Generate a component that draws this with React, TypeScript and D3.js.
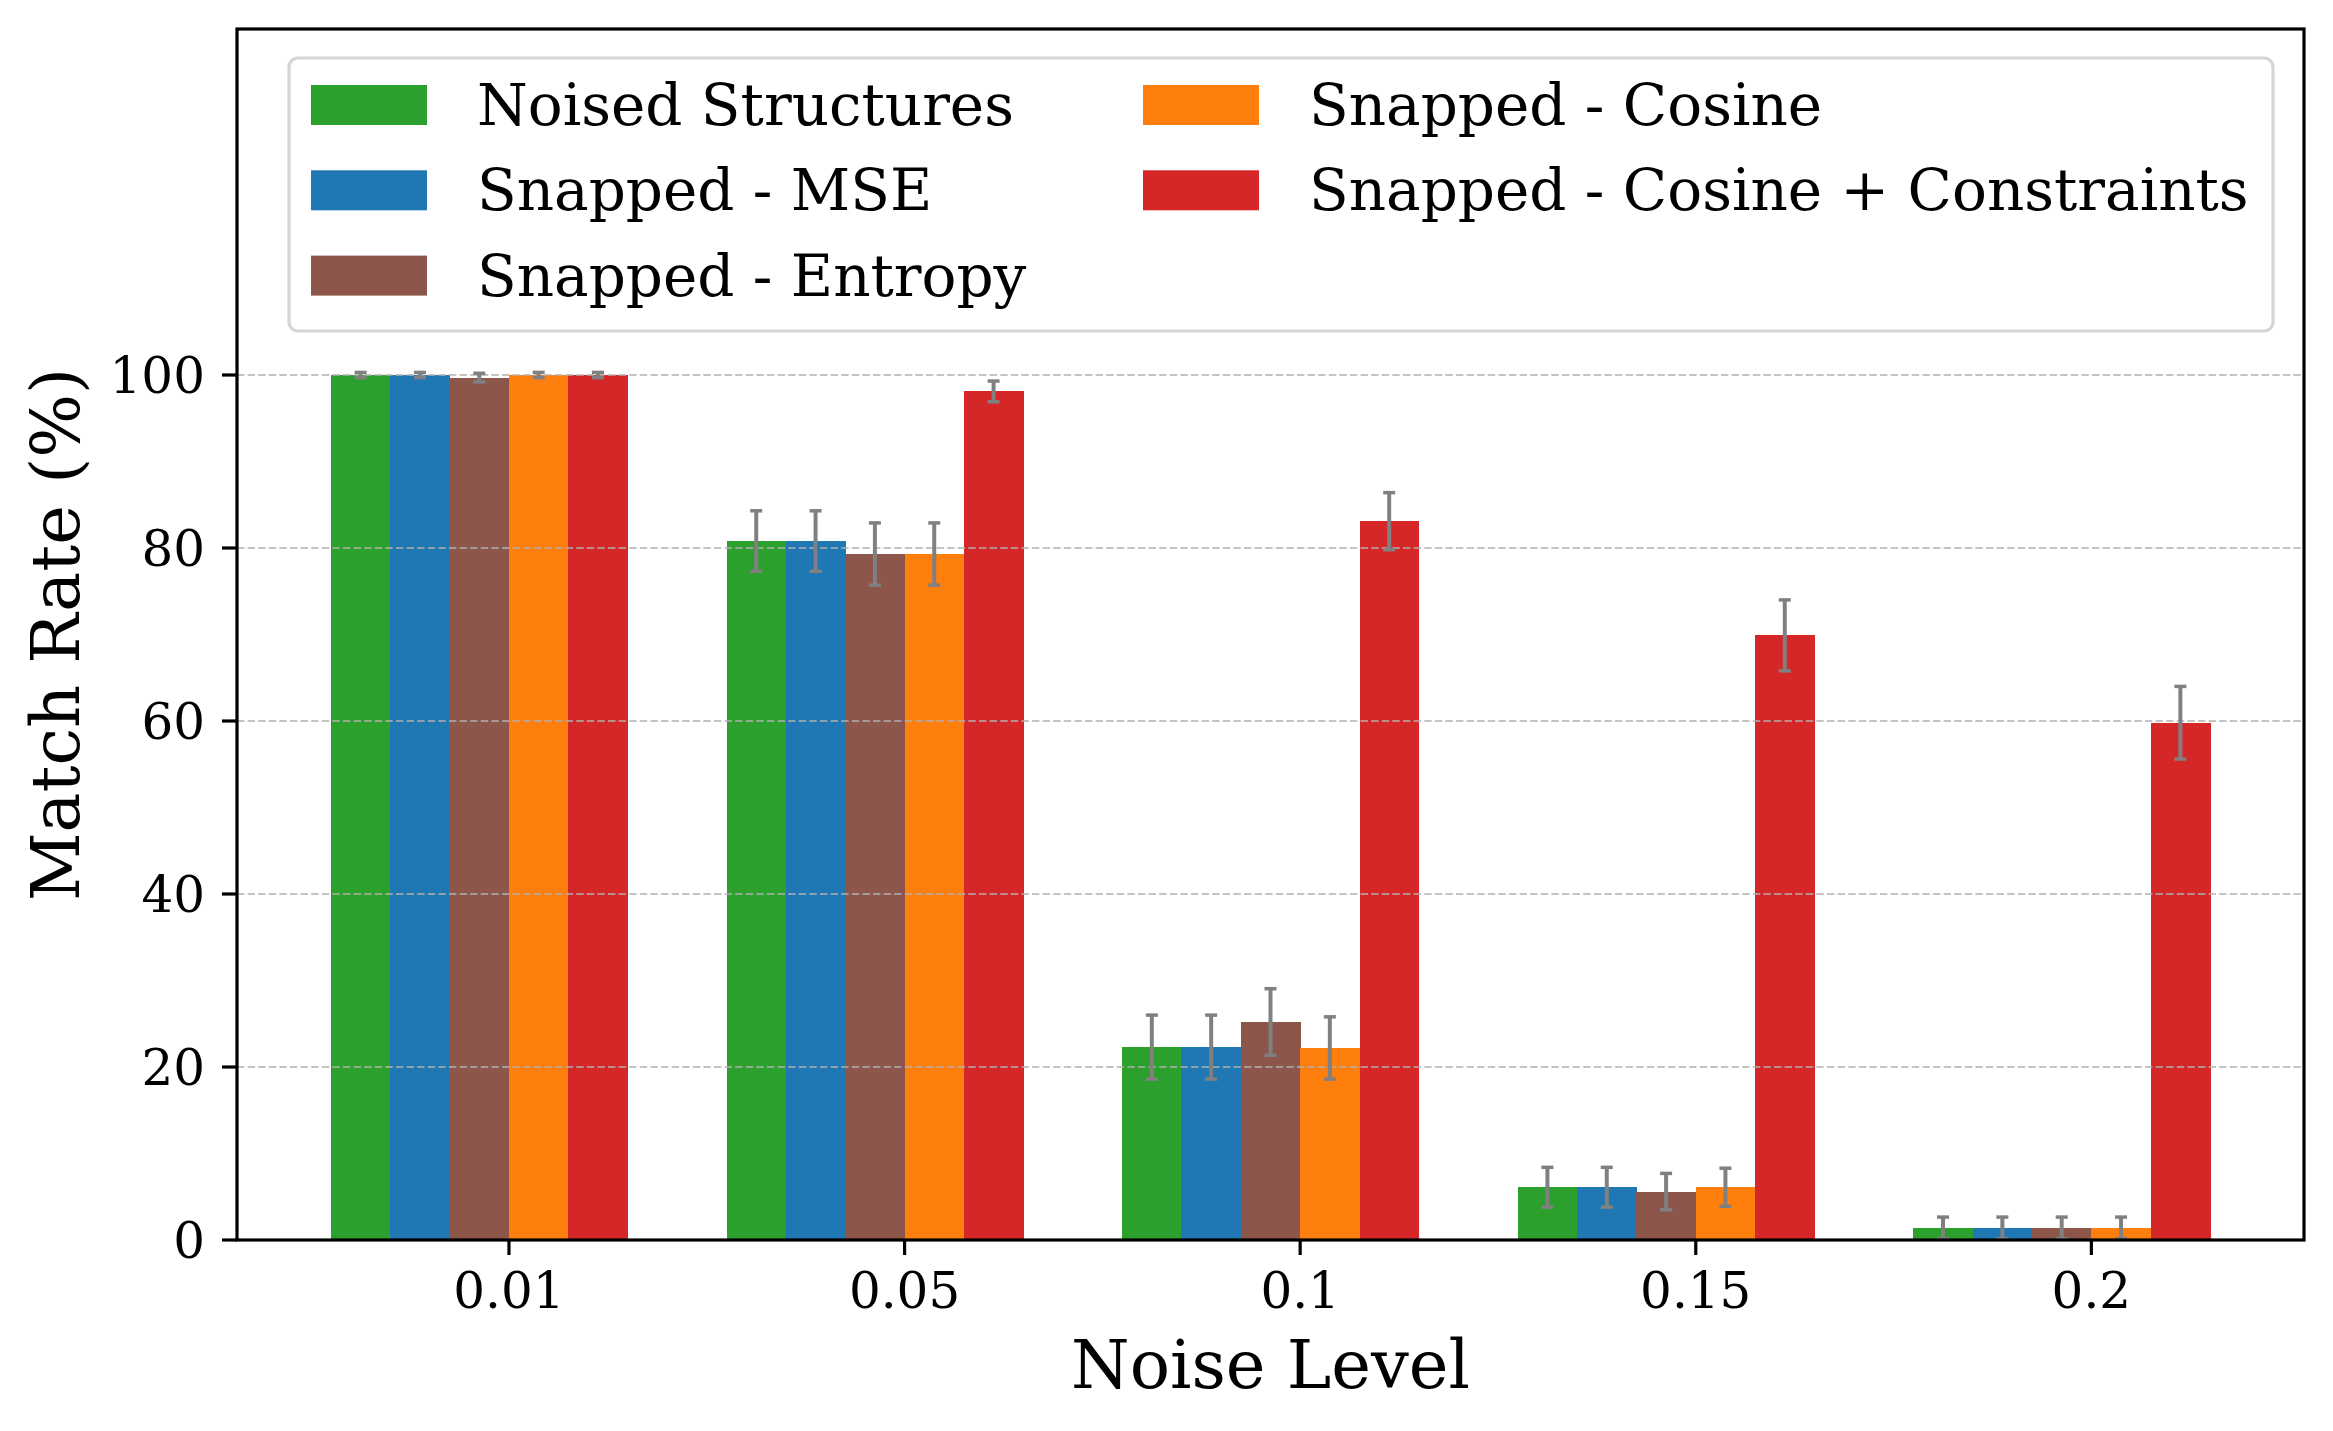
import React from 'react';
import * as d3 from 'd3';

const categories = ['0.01', '0.05', '0.1', '0.15', '0.2'];
const seriesNames = [
  'Noised Structures',
  'Snapped - MSE',
  'Snapped - Entropy',
  'Snapped - Cosine',
  'Snapped - Cosine + Constraints',
];
const seriesColors = ['#2ca02c', '#1f77b4', '#8c564b', '#ff7f0e', '#d62728'];

const noisedValues = [100, 80.8, 22.3, 6.1, 1.4];
const noisedErrors = [0.3, 3.5, 3.7, 2.3, 1.25];
const mseValues = [100, 80.8, 22.3, 6.1, 1.4];
const mseErrors = [0.3, 3.5, 3.7, 2.3, 1.25];
const entropyValues = [99.7, 79.3, 25.2, 5.6, 1.4];
const entropyErrors = [0.5, 3.6, 3.85, 2.1, 1.25];
const cosineValues = [100, 79.3, 22.2, 6.1, 1.4];
const cosineErrors = [0.3, 3.6, 3.6, 2.2, 1.25];
const constrainedValues = [100, 98.1, 83.1, 69.9, 59.8];
const constrainedErrors = [0.3, 1.2, 3.3, 4.1, 4.2];

const yTicks = [0, 20, 40, 60, 80, 100];

const allValues = [noisedValues, mseValues, entropyValues, cosineValues, constrainedValues];
const allErrors = [noisedErrors, mseErrors, entropyErrors, cosineErrors, constrainedErrors];

const W = 2333;
const H = 1431;
const FONT = '"DejaVu Serif", serif';

const App: React.FC = () => {
  const margin = { top: 29, right: W - 2304, bottom: H - 1240, left: 237 };
  const barW = 0.15;

  // bars are edge-aligned: series i starts at idx + (i - 3) * barW
  const xMin = -3 * barW;
  const xMax = categories.length - 1 + 2 * barW;
  const pad = (xMax - xMin) * 0.05;

  const x = d3.scaleLinear()
    .domain([xMin - pad, xMax + pad])
    .range([margin.left, W - margin.right]);
  const y = d3.scaleLinear()
    .domain([0, 140])
    .range([H - margin.bottom, margin.top]);

  const bw = x(barW) - x(0);
  const left = margin.left;
  const right = W - margin.right;
  const top = margin.top;
  const bottom = H - margin.bottom;

  const legendCols = [[0, 1, 2], [3, 4]];
  const legendColX = [311, 1143];
  const legendRowY = [85, 170.3, 255.6];

  return (
    <div style={{ position: 'absolute', left: 0, top: 0 }}>
      <svg width={W} height={H} style={{ display: 'block', background: '#fff' }}>
        {/* bars */}
        {allValues.map((vals, si) => (
          <g key={`s${si}`} shapeRendering="crispEdges">
            {vals.map((v, ci) => (
              <rect
                key={ci}
                x={x(ci + (si - 3) * barW)}
                y={y(v)}
                width={bw + 0.6}
                height={y(0) - y(v)}
                fill={seriesColors[si]}
              />
            ))}
          </g>
        ))}

        {/* grid on top of bars */}
        {yTicks.map(t => (
          <line
            key={`g${t}`}
            x1={left}
            x2={right}
            y1={y(t)}
            y2={y(t)}
            stroke="#b0b0b0"
            strokeOpacity={0.75}
            strokeWidth={2}
            strokeDasharray="7.4 3.2"
          />
        ))}

        {/* error bars */}
        {allValues.map((vals, si) => (
          <g key={`e${si}`} stroke="#808080">
            {vals.map((v, ci) => {
              const cx = x(ci + (si - 3) * barW + barW / 2);
              const e = allErrors[si][ci];
              return (
                <g key={ci}>
                  <line x1={cx} x2={cx} y1={y(v - e)} y2={y(v + e)} strokeWidth={4} />
                  <line x1={cx - 6} x2={cx + 6} y1={y(v - e)} y2={y(v - e)} strokeWidth={3.5} />
                  <line x1={cx - 6} x2={cx + 6} y1={y(v + e)} y2={y(v + e)} strokeWidth={3.5} />
                </g>
              );
            })}
          </g>
        ))}

        {/* axes frame */}
        <rect x={left} y={top} width={right - left} height={bottom - top} fill="none" stroke="#000" strokeWidth={3.2} />

        {/* y ticks */}
        {yTicks.map(t => (
          <g key={`yt${t}`}>
            <line x1={left - 15} x2={left} y1={y(t)} y2={y(t)} stroke="#000" strokeWidth={3.2} />
            <text
              x={left - 32}
              y={y(t)}
              dy="0.36em"
              textAnchor="end"
              fontFamily={FONT}
              fontSize={50}
              fill="#000"
            >
              {t}
            </text>
          </g>
        ))}

        {/* x ticks */}
        {categories.map((c, i) => (
          <g key={`xt${c}`}>
            <line x1={x(i)} x2={x(i)} y1={bottom} y2={bottom + 15} stroke="#000" strokeWidth={3.2} />
            <text
              x={x(i)}
              y={1308}
              textAnchor="middle"
              fontFamily={FONT}
              fontSize={50}
              fill="#000"
            >
              {c}
            </text>
          </g>
        ))}

        {/* axis labels */}
        <text
          x={(left + right) / 2}
          y={1388}
          textAnchor="middle"
          fontFamily={FONT}
          fontSize={67}
          fill="#000"
        >
          Noise Level
        </text>
        <text
          transform={`translate(79, ${(top + bottom) / 2}) rotate(-90)`}
          textAnchor="middle"
          fontFamily={FONT}
          fontSize={67}
          fill="#000"
        >
          Match Rate (%)
        </text>

        {/* legend */}
        <rect x={289} y={58} width={2273 - 289} height={331 - 58} rx={9} fill="#fff" fillOpacity={0.8} stroke="#d5d5d5" strokeWidth={3.2} />
        {legendCols.map((col, ci) =>
          col.map((si, ri) => (
            <g key={`l${si}`}>
              <rect x={legendColX[ci]} y={legendRowY[ri]} width={116} height={40} fill={seriesColors[si]} />
              <text
                x={legendColX[ci] + 166}
                y={legendRowY[ri] + 40}
                fontFamily={FONT}
                fontSize={58}
                fill="#000"
              >
                {seriesNames[si]}
              </text>
            </g>
          ))
        )}
      </svg>
    </div>
  );
};

export default App;
